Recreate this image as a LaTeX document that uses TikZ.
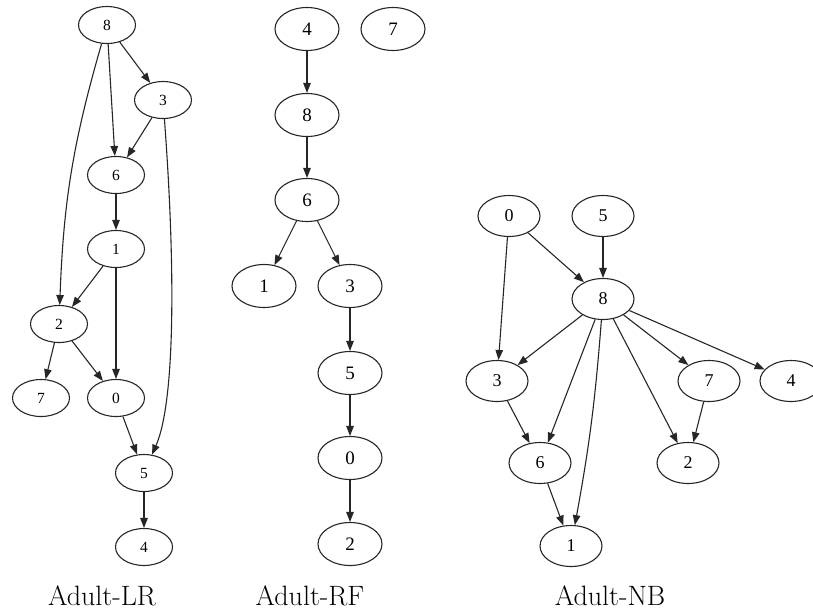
\documentclass[tikz,border=0pt]{standalone}
\usepackage{fontspec}
\newfontfamily\nodefont{Liberation Serif}
\usetikzlibrary{shapes.geometric,arrows.meta}
\begin{document}
\begin{tikzpicture}[x=1pt,y=-1pt,
  gn/.style={ellipse,draw,line width=1.1pt,inner sep=0pt,draw=black!85},
  lrn/.style={gn,minimum width=57pt,minimum height=37pt,font=\nodefont\fontsize{15.5}{15.5}\selectfont},
  rfn/.style={gn,minimum width=64pt,minimum height=43pt,font=\nodefont\fontsize{19}{19}\selectfont},
  nbn/.style={gn,minimum width=62pt,minimum height=41pt,font=\nodefont\fontsize{18}{18}\selectfont},
  lab/.style={font=\fontsize{28}{32}\selectfont},
  edge/.style={-{Triangle[length=10pt,width=7.5pt]},line width=1.1pt,draw=black!85}]
\useasboundingbox (0,0) rectangle (813,611);
% ---------- Adult-LR ----------
\node[lrn] (l8) at (107,25) {8};
\node[lrn] (l3) at (163,100) {3};
\node[lrn] (l6) at (116,175) {6};
\node[lrn] (l1) at (116,249) {1};
\node[lrn] (l2) at (59,324) {2};
\node[lrn] (l7) at (41,398) {7};
\node[lrn] (l0) at (116,398) {0};
\node[lrn] (l5) at (144,473) {5};
\node[lrn] (l4) at (144,547) {4};
\node[lab] (llab) at (102,596) {Adult-LR};
\draw[edge] (l8) -- (l3);
\draw[edge] (l8) -- (l6);
\draw[edge] (l8) to[bend right=7] (l2);
\draw[edge] (l3) -- (l6);
\draw[edge] (l3) .. controls (175,260) and (176,400) .. (l5);
\draw[edge] (l6) -- (l1);
\draw[edge] (l1) -- (l2);
\draw[edge] (l1) -- (l0);
\draw[edge] (l2) -- (l7);
\draw[edge] (l2) -- (l0);
\draw[edge] (l0) -- (l5);
\draw[edge] (l5) -- (l4);
% ---------- Adult-RF ----------
\node[rfn] (r4) at (307,29) {4};
\node[rfn] (r7) at (393,29) {7};
\node[rfn] (r8) at (307,115) {8};
\node[rfn] (r6) at (307,200) {6};
\node[rfn] (r1) at (264,286) {1};
\node[rfn] (r3) at (350,286) {3};
\node[rfn] (r5) at (350,373) {5};
\node[rfn] (r0) at (350,458) {0};
\node[rfn] (r2) at (350,544) {2};
\node[lab] (rlab) at (310,596) {Adult-RF};
\draw[edge] (r4) -- (r8);
\draw[edge] (r8) -- (r6);
\draw[edge] (r6) -- (r1);
\draw[edge] (r6) -- (r3);
\draw[edge] (r3) -- (r5);
\draw[edge] (r5) -- (r0);
\draw[edge] (r0) -- (r2);
% ---------- Adult-NB ----------
\node[nbn] (n0) at (509,216) {0};
\node[nbn] (n5) at (603,216) {5};
\node[nbn] (n8) at (603,299) {8};
\node[nbn] (n3) at (497,381) {3};
\node[nbn] (n7) at (709,381) {7};
\node[nbn] (n4) at (791,381) {4};
\node[nbn] (n6) at (540,463) {6};
\node[nbn] (n2) at (688,463) {2};
\node[nbn] (n1) at (571,546) {1};
\node[lab] (nlab) at (610,596) {Adult-NB};
\draw[edge] (n0) -- (n8);
\draw[edge] (n0) -- (n3);
\draw[edge] (n5) -- (n8);
\draw[edge] (n8) -- (n3);
\draw[edge] (n8) -- (n6);
\draw[edge] (n8) to[bend left=3] (n1);
\draw[edge] (n8) -- (n2);
\draw[edge] (n8) -- (n7);
\draw[edge] (n8) -- (n4);
\draw[edge] (n3) -- (n6);
\draw[edge] (n7) -- (n2);
\draw[edge] (n6) -- (n1);
\end{tikzpicture}
\end{document}
